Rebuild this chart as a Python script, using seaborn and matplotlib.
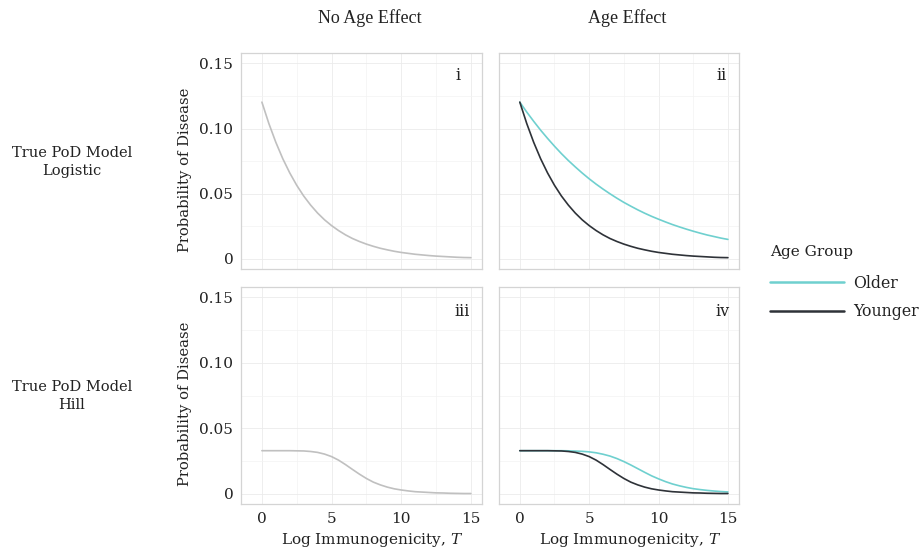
import numpy as np
import pandas as pd
import matplotlib
matplotlib.use("Agg")
import matplotlib.pyplot as plt
import seaborn as sns
from matplotlib.ticker import FixedLocator, FixedFormatter

# ---------------- data ----------------
T = [0, 0.5, 1, 1.5, 2, 2.5, 3, 3.5, 4, 4.5, 5, 5.5, 6, 6.5, 7, 7.5,
     8, 8.5, 9, 9.5, 10, 10.5, 11, 11.5, 12, 12.5, 13, 13.5, 14, 14.5, 15]

# Logistic PoD model
logistic_no_age = [0.1203, 0.1039, 0.0895, 0.0769, 0.0660, 0.0565, 0.0483, 0.0413,
                   0.0352, 0.0300, 0.0256, 0.0218, 0.0185, 0.0157, 0.0134, 0.0114,
                   0.0097, 0.0082, 0.0070, 0.0059, 0.0050, 0.0043, 0.0036, 0.0031,
                   0.0026, 0.0022, 0.0019, 0.0016, 0.0013, 0.0011, 0.0010]
logistic_older = [0.1203, 0.1127, 0.1056, 0.0988, 0.0925, 0.0865, 0.0808, 0.0755,
                  0.0706, 0.0659, 0.0615, 0.0574, 0.0536, 0.0500, 0.0466, 0.0434,
                  0.0405, 0.0377, 0.0351, 0.0327, 0.0305, 0.0284, 0.0264, 0.0246,
                  0.0229, 0.0213, 0.0198, 0.0184, 0.0172, 0.0160, 0.0150]
logistic_younger = [0.1203, 0.1039, 0.0895, 0.0769, 0.0660, 0.0565, 0.0483, 0.0413,
                    0.0352, 0.0300, 0.0256, 0.0218, 0.0185, 0.0157, 0.0134, 0.0114,
                    0.0097, 0.0082, 0.0070, 0.0059, 0.0050, 0.0043, 0.0036, 0.0031,
                    0.0026, 0.0022, 0.0019, 0.0016, 0.0013, 0.0011, 0.0010]

# Hill PoD model
hill_no_age = [0.0330, 0.0330, 0.0330, 0.0330, 0.0330, 0.0329, 0.0328, 0.0324,
               0.0317, 0.0304, 0.0285, 0.0258, 0.0224, 0.0187, 0.0151, 0.0118,
               0.0090, 0.0069, 0.0052, 0.0039, 0.0030, 0.0023, 0.0017, 0.0014,
               0.0011, 0.0008, 0.0007, 0.0005, 0.0004, 0.0003, 0.0003]
hill_older = [0.0330, 0.0330, 0.0330, 0.0330, 0.0330, 0.0330, 0.0330, 0.0329,
              0.0327, 0.0325, 0.0321, 0.0314, 0.0303, 0.0289, 0.0270, 0.0247,
              0.0221, 0.0193, 0.0165, 0.0138, 0.0115, 0.0094, 0.0076, 0.0062,
              0.0050, 0.0040, 0.0033, 0.0027, 0.0022, 0.0018, 0.0015]
hill_younger = hill_no_age

col_titles = ["No Age Effect", "Age Effect"]
row_titles = ["True PoD Model\nLogistic", "True PoD Model\nHill"]
panel_tags = ["i", "ii", "iii", "iv"]
age_groups = ["Older", "Younger"]
x_ticks = [0, 5, 10, 15]
y_ticks = [0, 0.05, 0.10, 0.15]
y_ticklabels = ["0", "0.05", "0.10", "0.15"]

# ---------------- style ----------------
sns.set_style("white")
plt.rcParams["font.family"] = ["DejaVu Serif"]
plt.rcParams["mathtext.fontset"] = "dejavuserif"

TEAL = "#6fd0cf"
DARK = "#2e3238"
GREY = "#c0c0c0"
TXT = "#222222"
palette = {"Older": TEAL, "Younger": DARK}

fig = plt.figure(figsize=(9.21, 5.5), dpi=100)
W, H = 921.0, 550.0

def ax_at(l, t, r, b):
    return fig.add_axes([l / W, 1 - b / H, (r - l) / W, (b - t) / H])

axes = [ax_at(241, 53, 482, 269), ax_at(499, 53, 739, 269),
        ax_at(241, 287, 482, 504), ax_at(499, 287, 739, 504)]

df_log_no = pd.DataFrame({"T": T, "p": logistic_no_age})
df_hill_no = pd.DataFrame({"T": T, "p": hill_no_age})
df_log_age = pd.DataFrame({"T": T * 2, "p": logistic_older + logistic_younger,
                           "Age Group": ["Older"] * len(T) + ["Younger"] * len(T)})
df_hill_age = pd.DataFrame({"T": T * 2, "p": hill_older + hill_younger,
                            "Age Group": ["Older"] * len(T) + ["Younger"] * len(T)})

LW = 1.2
sns.lineplot(data=df_log_no, x="T", y="p", ax=axes[0], color=GREY, lw=LW)
sns.lineplot(data=df_log_age, x="T", y="p", hue="Age Group", palette=palette,
             hue_order=age_groups, ax=axes[1], lw=LW, legend=True)
sns.lineplot(data=df_hill_no, x="T", y="p", ax=axes[2], color=GREY, lw=LW)
sns.lineplot(data=df_hill_age, x="T", y="p", hue="Age Group", palette=palette,
             hue_order=age_groups, ax=axes[3], lw=LW, legend=False)

handles, labels = axes[1].get_legend_handles_labels()
axes[1].get_legend().remove()

tag_pos = [(14.1, 0.141), (14.55, 0.141), (14.4, 0.139), (14.6, 0.139)]
ylab_y = [0.46, 0.46]

for i, ax in enumerate(axes):
    ax.set_xlim(-1.5, 15.8)
    ax.set_ylim(-0.0077, 0.158)
    ax.xaxis.set_major_locator(FixedLocator(x_ticks))
    ax.xaxis.set_minor_locator(FixedLocator([2.5, 7.5, 12.5]))
    ax.yaxis.set_major_locator(FixedLocator(y_ticks))
    ax.yaxis.set_minor_locator(FixedLocator([0.025, 0.075, 0.125]))
    ax.grid(which="major", color="#ebebeb", lw=0.6)
    ax.grid(which="minor", color="#f3f3f3", lw=0.5)
    ax.set_axisbelow(True)
    for s in ax.spines.values():
        s.set_color("#d4d4d4")
        s.set_linewidth(0.9)
    ax.tick_params(which="major", direction="out", length=2.5, width=0.6,
                   color="#cfcfcf", labelsize=11, labelcolor=TXT, pad=3)
    ax.tick_params(which="minor", length=0)
    ax.set_xlabel("")
    ax.set_ylabel("")
    if i in (0, 2):
        ax.yaxis.set_major_formatter(FixedFormatter(y_ticklabels))
        ax.set_ylabel("Probability of Disease", fontsize=10.6, color=TXT)
        ax.yaxis.set_label_coords(-0.205, ylab_y[i // 2])
    else:
        ax.set_yticklabels([])
    if i in (2, 3):
        ax.set_xticklabels([str(v) for v in x_ticks])
        ax.set_xlabel("Log Immunogenicity, $T$", fontsize=11, color=TXT)
        ax.xaxis.set_label_coords(0.545, -0.125)
    else:
        ax.set_xticklabels([])
    ax.text(tag_pos[i][0], tag_pos[i][1], panel_tags[i], ha="center", va="center",
            fontsize=11.5, color=TXT)

# column titles
fig.text(370 / W, 1 - 18 / H, col_titles[0], ha="center", va="center",
         fontsize=13, family=["Liberation Serif"], color=TXT)
fig.text(627 / W, 1 - 18 / H, col_titles[1], ha="center", va="center",
         fontsize=13, family=["Liberation Serif"], color=TXT)
# row titles
fig.text(72 / W, 1 - 162 / H, row_titles[0], ha="center", va="center",
         fontsize=10.5, color=TXT, linespacing=1.45)
fig.text(72 / W, 1 - 396 / H, row_titles[1], ha="center", va="center",
         fontsize=10.5, color=TXT, linespacing=1.45)

# legend
fig.text(770 / W, 1 - 252 / H, "Age Group", ha="left", va="center",
         fontsize=11, color=TXT)
leg = fig.legend(handles, labels, loc="center left",
                 bbox_to_anchor=(770 / W, 1 - 297.5 / H), frameon=False,
                 fontsize=11.3, handlelength=4.7, handletextpad=0.6,
                 labelspacing=0.75, borderpad=0, borderaxespad=0)
for lh in leg.get_lines():
    lh.set_linewidth(1.8)
for t in leg.get_texts():
    t.set_color(TXT)

fig.savefig("out.png", dpi=100, facecolor="white")
